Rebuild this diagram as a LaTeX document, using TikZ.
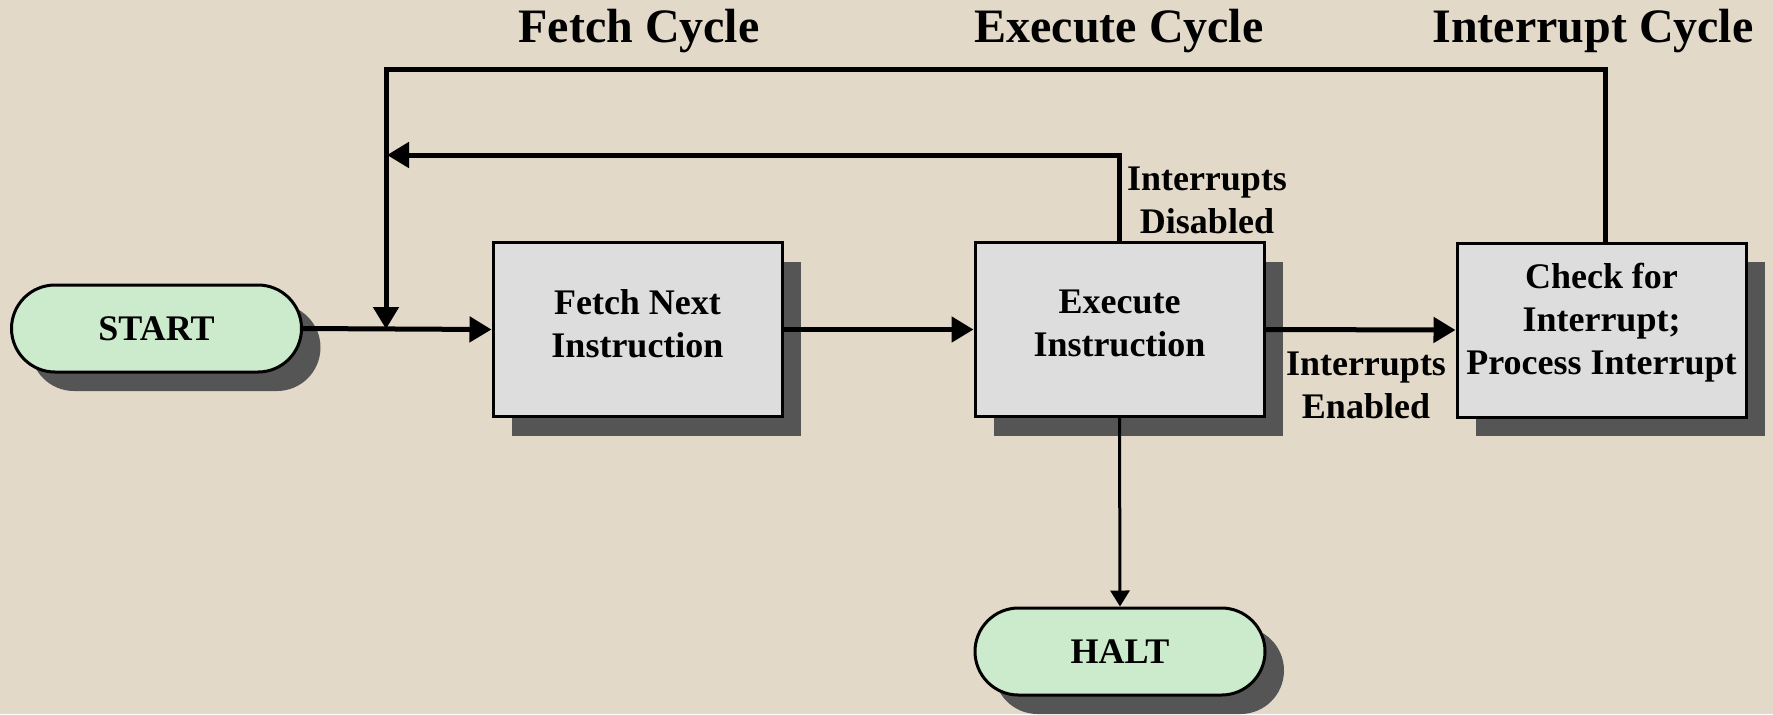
\documentclass[tikz,border=0pt]{standalone}
\usepackage{fontspec}
\setmainfont{Liberation Serif}
\usetikzlibrary{arrows.meta,shadows,calc}
\definecolor{bg}{RGB}{227,217,201}
\definecolor{termgreen}{RGB}{204,234,204}
\definecolor{boxgray}{RGB}{221,221,221}
\definecolor{shgray}{RGB}{85,85,85}
\begin{document}
\begin{tikzpicture}[x=0.5pt,y=-0.5pt,
  font=\bfseries\fontsize{18}{21.5}\selectfont,
  shad/.style={drop shadow={shadow xshift=9.5pt,shadow yshift=-9.5pt,fill=shgray,opacity=1}},
  procbox/.style={draw=black,line width=1.5pt,fill=boxgray,minimum width=144.5pt,minimum height=87pt,align=center,inner sep=2pt,text depth=6pt,shad},
  termbox/.style={draw=black,line width=1.5pt,fill=termgreen,rounded corners=21.75pt,minimum width=145pt,minimum height=43.5pt,inner sep=2pt,shad},
  flow/.style={line width=2.5pt,-{Triangle[length=11pt,width=12.5pt]}},
  thinflow/.style={line width=1.5pt,-{Triangle[length=8pt,width=9.5pt]}},
  title/.style={font=\bfseries\fontsize{24}{28}\selectfont},
  lbl/.style={align=center,inner sep=0pt}]
\fill[bg] (0,0) rectangle (1773,714);
\useasboundingbox (0,0) rectangle (1773,714);

\node[termbox] (start) at (156.5,328.5) {START};
\node[procbox] (fetch) at (637.5,329.5) {Fetch Next\\Instruction};
\node[procbox] (exec) at (1119.5,329.5) {Execute\\Instruction};
\node[procbox,text depth=11pt] (check) at (1601.5,330) {Check for\\Interrupt;\\Process Interrupt};
\node[termbox] (halt) at (1120,651.5) {HALT};

\node[title] (t1) at (639,31) {Fetch Cycle};
\node[title] (t2) at (1119,31) {Execute Cycle};
\node[title] (t3) at (1593,31) {Interrupt Cycle};

\node[lbl] (dis) at (1207,200) {Interrupts\\Disabled};
\node[lbl] (ena) at (1366,385) {Interrupts\\Enabled};

\coordinate (j) at (386,329);
\coordinate (ltop) at (386,69);
\coordinate (rtop) at (1605,69);
\coordinate (lmid) at (387,155);

\draw[flow] (start.east) -- (fetch.west);
\draw[flow] (fetch.east) -- (exec.west);
\draw[flow] (exec.east) -- (check.west);
\draw[flow] (exec.north) |- (lmid);
\draw[flow] (check.north -| rtop) -- (rtop) -- (ltop) -- (j);
\draw[thinflow] (exec.south) -- (halt.north);
\end{tikzpicture}
\end{document}
